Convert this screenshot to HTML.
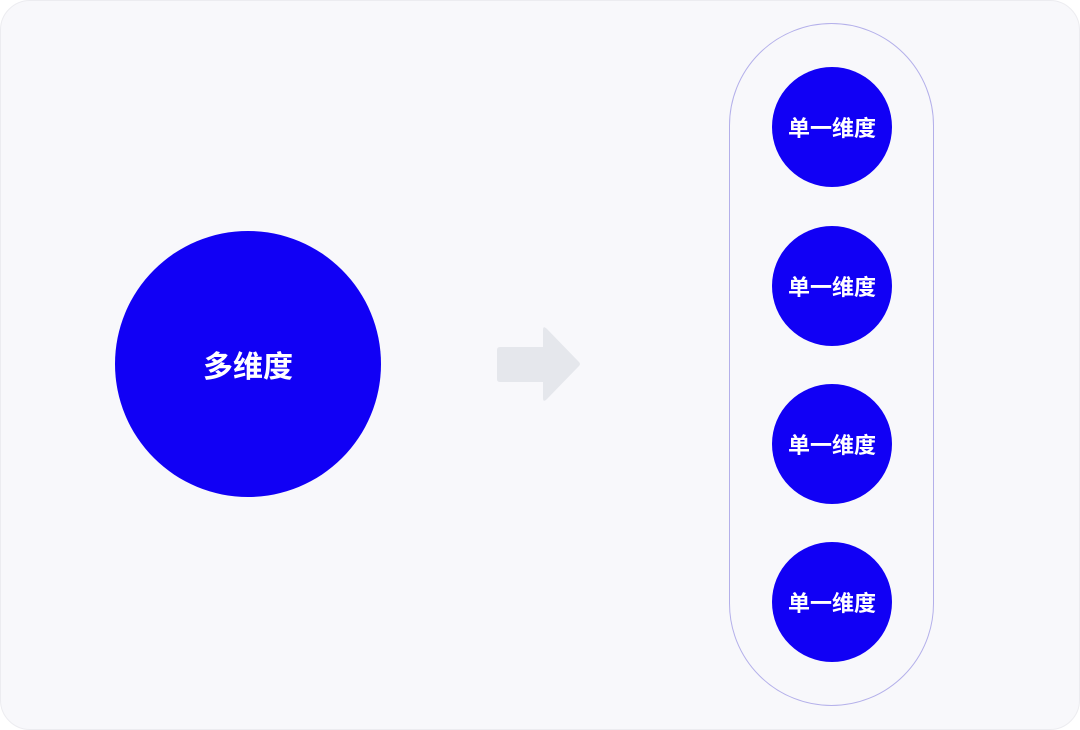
<!DOCTYPE html>
<html><head><meta charset="utf-8"><style>
html,body{margin:0;padding:0;width:1080px;height:730px;background:#fff;overflow:hidden}
.card{position:absolute;left:0;top:0;width:1078px;height:728px;border:1px solid #ececf0;border-radius:30px;background:#f8f8fb}
.c{position:absolute;border-radius:50%;background:#1100f5;color:#fff;display:flex;align-items:center;justify-content:center;font-family:"Liberation Sans","Noto Sans CJK SC",sans-serif;font-weight:bold}
.s{width:120px;height:120px;left:772px;font-size:22px}
.pill{position:absolute;left:729px;top:23px;width:205px;height:683px;border:1px solid #b4b0ea;border-radius:103px;box-sizing:border-box}
</style></head><body>
<div class="card"></div>
<div class="c" style="left:115px;top:231px;width:266px;height:266px;font-size:30px">多维度</div>
<svg style="position:absolute;left:0;top:0" width="1080" height="730"><path d="M500 347 H543 V330 Q543 325 547 329 L579 362 Q581 364 579 366 L547 399 Q543 403 543 398 V382 H500 Q497 382 497 379 V350 Q497 347 500 347 Z" fill="#e5e7ec"/></svg>
<div class="pill"></div>
<div class="c s" style="top:67px">单一维度</div>
<div class="c s" style="top:226px">单一维度</div>
<div class="c s" style="top:384px">单一维度</div>
<div class="c s" style="top:542px">单一维度</div>
</body></html>
